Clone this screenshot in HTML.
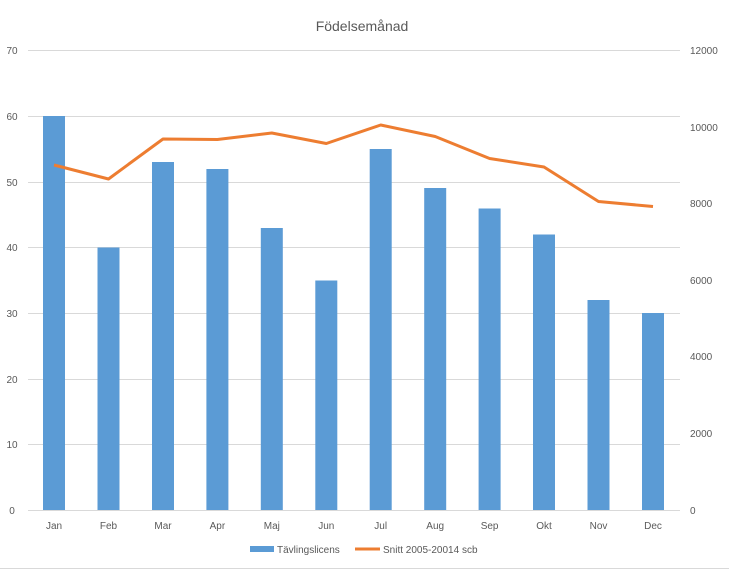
<!DOCTYPE html><html><head><style>body{margin:0;background:#fff}svg{font-family:"Liberation Sans",sans-serif}</style></head><body>
<svg width="729" height="572" xmlns="http://www.w3.org/2000/svg">
<rect width="729" height="572" fill="#fff"/>
<text x="362" y="31" text-anchor="middle" font-size="14" fill="#595959">Födelsemånad</text>
<g stroke="#d9d9d9" stroke-width="1">
<line x1="28" x2="680" y1="50.5" y2="50.5"/><line x1="28" x2="680" y1="116.5" y2="116.5"/><line x1="28" x2="680" y1="182.5" y2="182.5"/><line x1="28" x2="680" y1="247.5" y2="247.5"/><line x1="28" x2="680" y1="313.5" y2="313.5"/><line x1="28" x2="680" y1="379.5" y2="379.5"/><line x1="28" x2="680" y1="444.5" y2="444.5"/><line x1="28" x2="680" y1="510.5" y2="510.5"/>
<line x1="0" x2="729" y1="568.5" y2="568.5"/>
</g>
<g font-size="10" fill="#595959" text-anchor="middle">
<text x="12" y="54">70</text><text x="12" y="120">60</text><text x="12" y="186">50</text><text x="12" y="251">40</text><text x="12" y="317">30</text><text x="12" y="383">20</text><text x="12" y="448">10</text><text x="12" y="514">0</text>
</g>
<g font-size="10" fill="#595959" text-anchor="start">
<text x="690" y="54">12000</text><text x="690" y="131">10000</text><text x="690" y="207">8000</text><text x="690" y="284">6000</text><text x="690" y="360">4000</text><text x="690" y="437">2000</text><text x="690" y="514">0</text>
</g>
<g fill="#5b9bd5">
<rect x="43" y="116" width="22" height="394"/>
<rect x="97.5" y="247.5" width="22" height="262.5"/>
<rect x="152" y="162" width="22" height="348"/>
<rect x="206.4" y="169" width="22" height="341"/>
<rect x="260.8" y="228" width="22" height="282"/>
<rect x="315.3" y="280.5" width="22" height="229.5"/>
<rect x="369.7" y="149" width="22" height="361"/>
<rect x="424.2" y="188" width="22" height="322"/>
<rect x="478.6" y="208.5" width="22" height="301.5"/>
<rect x="533" y="234.5" width="22" height="275.5"/>
<rect x="587.5" y="300" width="22" height="210"/>
<rect x="642" y="313" width="22" height="197"/>
</g>
<polyline fill="none" stroke="#ed7d31" stroke-width="3" stroke-linejoin="round" points="54,165 108.5,179 163,139 217.4,139.5 271.8,133 326.3,143.5 380.7,125 435.2,136.5 489.6,158.5 544,167 598.5,201.5 653,206.5"/>
<g font-size="10" fill="#595959" text-anchor="middle">
<text x="54" y="529">Jan</text><text x="108.5" y="529">Feb</text><text x="163" y="529">Mar</text><text x="217.4" y="529">Apr</text><text x="271.8" y="529">Maj</text><text x="326.3" y="529">Jun</text><text x="380.7" y="529">Jul</text><text x="435.2" y="529">Aug</text><text x="489.6" y="529">Sep</text><text x="544" y="529">Okt</text><text x="598.5" y="529">Nov</text><text x="653" y="529">Dec</text>
</g>
<rect x="250" y="546" width="24" height="6" fill="#5b9bd5"/>
<text x="277" y="553" font-size="10" fill="#595959">Tävlingslicens</text>
<line x1="355" x2="380" y1="549" y2="549" stroke="#ed7d31" stroke-width="3"/>
<text x="383" y="553" font-size="10" fill="#595959">Snitt 2005-20014 scb</text>
</svg>
</body></html>
